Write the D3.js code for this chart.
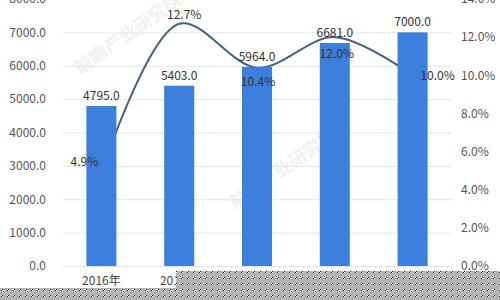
<!DOCTYPE html>
<html><head><meta charset="utf-8">
<script src="https://cdn.jsdelivr.net/npm/d3@7/dist/d3.min.js"></script>
<style>
html,body{margin:0;padding:0;background:#fff;}
svg{display:block;}
text{font-family:"Noto Sans CJK SC","Noto Sans",sans-serif;}
</style></head>
<body>
<svg id="c" width="500" height="300"></svg>
<script>
const categories = ["2016年","2017年","2018年","2019年","2020年"];
const amounts = [4795.0, 5403.0, 5964.0, 6681.0, 7000.0];
const growth = [4.9, 12.7, 10.4, 12.0, 10.0];
const leftTicks = [0,1000,2000,3000,4000,5000,6000,7000,8000];
const rightTicks = [0,2,4,6,8,10,12,14];

const svg = d3.select("#c");
const W = 500, H = 300;
const plot = {left: 62.5, right: 451.5, top: -1, bottom: 266};

const defs = svg.append("defs");
const pat = defs.append("pattern").attr("id","mask").attr("width",6).attr("height",6)
  .attr("patternUnits","userSpaceOnUse");
pat.append("rect").attr("width",6).attr("height",6).attr("fill","#b3b3b3");
pat.append("rect").attr("x",1).attr("y",1).attr("width",1).attr("height",1).attr("fill","#ffffff");
pat.append("rect").attr("x",2).attr("y",1).attr("width",1).attr("height",1).attr("fill","#222");
pat.append("rect").attr("x",1).attr("y",2).attr("width",1).attr("height",1).attr("fill","#222");
pat.append("rect").attr("x",2).attr("y",2).attr("width",1).attr("height",1).attr("fill","#ffffff");

const x = d3.scaleBand().domain(categories).range([plot.left, plot.right]).padding(0);
const yL = d3.scaleLinear().domain([0,8000]).range([plot.bottom, plot.top]);
const yR = d3.scaleLinear().domain([0,14]).range([plot.bottom, plot.top]);
const barW = x.bandwidth()*0.386;
const cx = d => x(d) + x.bandwidth()/2;

// watermark
const wm = svg.append("g").attr("fill","#f1f1f1").attr("font-size",18).attr("font-weight","bold");
wm.append("text").attr("transform","translate(80,75) rotate(-35)").text("前瞻产业研究院");
wm.append("text").attr("transform","translate(235,210) rotate(-35)").text("前瞻产业研究院");

// gridlines
svg.append("g").selectAll("line").data(leftTicks).join("line")
  .attr("x1",plot.left).attr("x2",plot.right)
  .attr("y1",d=>yL(d)+0.5).attr("y2",d=>yL(d)+0.5)
  .attr("stroke","#e4e4e4").attr("stroke-width",1);

// left axis
const axL = d3.axisLeft(yL).tickValues(leftTicks).tickFormat(d3.format(".1f")).tickSize(0).tickPadding(0);
const gL = svg.append("g").attr("transform","translate(46,0)").call(axL);
gL.select(".domain").remove();
gL.selectAll("text").attr("fill","#555").attr("font-size",12).attr("font-family","Noto Sans CJK SC");

// right axis
const axR = d3.axisRight(yR).tickValues(rightTicks).tickFormat(d=>d3.format(".1f")(d)+"%").tickSize(0).tickPadding(0);
const gR = svg.append("g").attr("transform","translate(461,0)").call(axR);
gR.select(".domain").remove();
gR.selectAll("text").attr("fill","#555").attr("font-size",12).attr("font-family","Noto Sans CJK SC");

// x axis labels
const axB = d3.axisBottom(x).tickSize(0).tickPadding(10);
const gB = svg.append("g").attr("transform",`translate(0,${plot.bottom})`).call(axB);
gB.select(".domain").remove();
gB.selectAll("text").attr("fill","#444").attr("font-size",12).attr("font-family","Noto Sans CJK SC");

// line
const pts = categories.map((c,i)=>[cx(c), yR(growth[i])]);
svg.append("path").datum(pts)
  .attr("d", d3.line().curve(d3.curveCatmullRom.alpha(0.5)))
  .attr("fill","none").attr("stroke","#46607f").attr("stroke-width",2);

// bars
svg.append("g").selectAll("rect").data(amounts).join("rect")
  .attr("x",(d,i)=>cx(categories[i])-barW/2)
  .attr("width",barW)
  .attr("y",d=>yL(d))
  .attr("height",d=>plot.bottom-yL(d))
  .attr("fill","#3d7fdd");

// bar labels
svg.append("g").selectAll("text").data(amounts).join("text")
  .attr("x",(d,i)=>cx(categories[i]))
  .attr("y",d=>yL(d)-6)
  .attr("text-anchor","middle")
  .attr("font-size",12).attr("fill","#333")
  .text(d=>d3.format(".1f")(d));

// line labels placement (offsets from point)
const place = [[-17,-7],[5,-5],[1,18],[2,21],[25,5]];
svg.append("g").selectAll("text").data(growth).join("text")
  .attr("x",(d,i)=>cx(categories[i])+place[i][0])
  .attr("y",(d,i)=>yR(d)+place[i][1])
  .attr("text-anchor","middle")
  .attr("font-size",12).attr("fill","#333")
  .text(d=>d3.format(".1f")(d)+"%");

// occlusion mask
svg.append("rect").attr("x",176).attr("y",271).attr("width",W-176).attr("height",H-271).attr("fill","url(#mask)");
svg.append("rect").attr("x",0).attr("y",288).attr("width",W).attr("height",H-288).attr("fill","url(#mask)");
</script>
</body></html>
